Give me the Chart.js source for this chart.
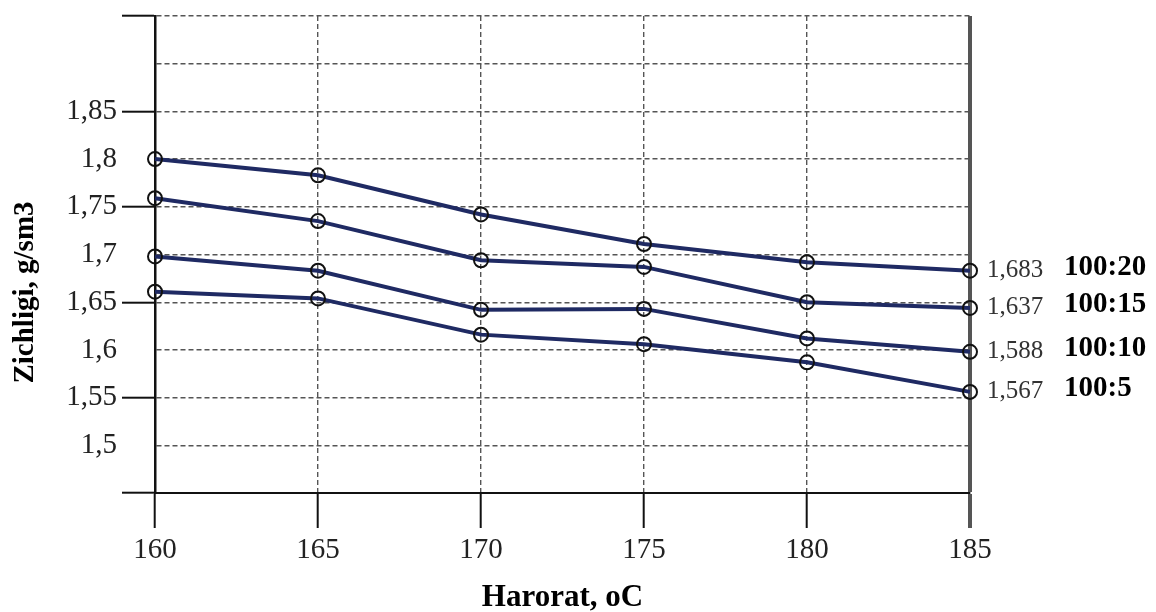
<!DOCTYPE html>
<html>
<head>
<meta charset="utf-8">
<script src="https://cdn.jsdelivr.net/npm/chart.js@4"></script>
<style>
  html, body { margin: 0; padding: 0; background: #fff; }
  #wrap { width: 1156px; height: 612px; }
</style>
</head>
<body>
<div id="wrap"><canvas id="chart" width="1156" height="612"></canvas></div>
<script>
// temperatures, oC
const temps = [160, 165, 170, 175, 180, 185];

// density, g/sm3, one array per ratio
const s100_20 = [1.800, 1.783, 1.742, 1.711, 1.692, 1.683];
const s100_15 = [1.759, 1.735, 1.694, 1.687, 1.650, 1.644];
const s100_10 = [1.698, 1.683, 1.642, 1.643, 1.612, 1.598];
const s100_5  = [1.661, 1.654, 1.616, 1.606, 1.587, 1.556];

const seriesNames = ['100:20', '100:15', '100:10', '100:5'];
const endLabels = ['1,683', '1,637', '1,588', '1,567'];
const yTickLabels = ['1,5', '1,55', '1,6', '1,65', '1,7', '1,75', '1,8', '1,85'];

const serif = "'Liberation Serif', 'DejaVu Serif', serif";
Chart.defaults.font.family = serif;

const fmt = v => String(Math.round(v * 100) / 100).replace('.', ',');
const isMajor = v => Math.round(v * 100) % 10 === 5;

function line(name, data) {
  return {
    label: name,
    data: data.map((y, i) => ({ x: temps[i], y: y })),
    borderColor: '#1f2a63',
    borderWidth: 4,
    tension: 0,
    clip: false,
    pointStyle: 'circle',
    pointRadius: 7,
    pointBorderColor: '#111',
    pointBorderWidth: 2,
    pointBackgroundColor: 'rgba(0,0,0,0)'
  };
}

// value + ratio label at the end of each line
const endText = {
  id: 'endText',
  afterDatasetsDraw(chart) {
    const ctx = chart.ctx;
    ctx.save();
    ctx.textBaseline = 'middle';
    ctx.textAlign = 'left';
    chart.data.datasets.forEach((ds, i) => {
      const pts = chart.getDatasetMeta(i).data;
      const p = pts[pts.length - 1];
      ctx.fillStyle = '#333';
      ctx.font = '25px ' + serif;
      ctx.fillText(endLabels[i], p.x + 17, p.y);
      ctx.fillStyle = '#000';
      ctx.font = 'bold 29px ' + serif;
      ctx.fillText(seriesNames[i], p.x + 94, p.y - 3);
    });
    // y axis title, sits a bit below the middle like in the original
    const a = chart.chartArea;
    ctx.translate(26, (a.top + a.bottom) / 2 + 38);
    ctx.rotate(-Math.PI / 2);
    ctx.textAlign = 'center';
    ctx.font = 'bold 29px ' + serif;
    ctx.fillText('Zichligi, g/sm3', 0, 0);
    ctx.restore();
  }
};

new Chart(document.getElementById('chart'), {
  type: 'line',
  data: {
    datasets: [
      line(seriesNames[0], s100_20),
      line(seriesNames[1], s100_15),
      line(seriesNames[2], s100_10),
      line(seriesNames[3], s100_5)
    ]
  },
  plugins: [endText],
  options: {
    responsive: false,
    animation: false,
    layout: { padding: { top: 16, right: 186, left: 0, bottom: 0 } },
    plugins: {
      legend: { display: false },
      tooltip: { enabled: false }
    },
    scales: {
      x: {
        type: 'linear',
        min: 160,
        max: 185,
        afterFit: s => { s.height = 119; },
        ticks: {
          stepSize: 5,
          padding: 5,
          color: '#222',
          font: { size: 29 },
          callback: v => String(v)
        },
        grid: {
          color: c => c.tick && c.tick.value === 160 ? 'rgba(0,0,0,0)' : '#555',
          lineWidth: c => c.tick && c.tick.value === 185 ? 4 : 1.4,
          tickLength: 35,
          tickColor: c => c.tick && c.tick.value === 185 ? '#555' : '#111',
          tickWidth: c => c.tick && c.tick.value === 185 ? 4 : 2
        },
        border: {
          color: '#111',
          width: 2,
          dash: c => c.tick && c.tick.value === 185 ? [] : [5, 3]
        },
        title: {
          display: true,
          text: 'Harorat, oC',
          color: '#000',
          font: { size: 31, weight: 'bold', lineHeight: 0.9 },
          padding: { top: 0, bottom: 0 }
        }
      },
      y: {
        min: 1.45,
        max: 1.95,
        afterFit: s => { s.width = 155; s.paddingTop = 0; s.paddingBottom = 0; },
        ticks: {
          stepSize: 0.05,
          padding: 5,
          color: '#222',
          font: { size: 29 },
          callback: v => yTickLabels.includes(fmt(v)) ? fmt(v) : ''
        },
        grid: {
          color: c => c.tick && Math.round(c.tick.value * 100) === 145 ? 'rgba(0,0,0,0)' : '#555',
          lineWidth: 1.4,
          tickLength: 33,
          tickColor: c => c.tick && isMajor(c.tick.value) ? '#111' : 'rgba(0,0,0,0)',
          tickWidth: 2
        },
        border: { color: '#111', width: 2.5, dash: [5, 3] }
      }
    }
  }
});
</script>
</body>
</html>
